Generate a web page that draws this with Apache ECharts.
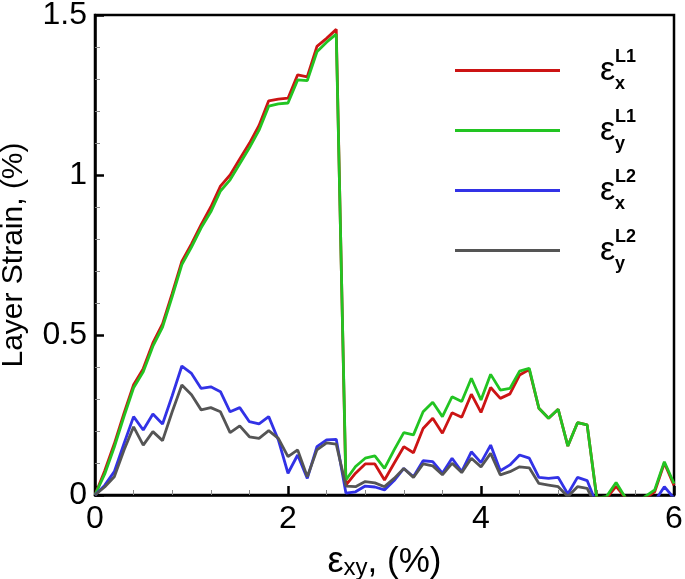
<!DOCTYPE html>
<html>
<head>
<meta charset="utf-8">
<script src="https://cdn.jsdelivr.net/npm/echarts@6/dist/echarts.min.js"></script>
<style>
    html, body { margin: 0; padding: 0; background: #fff; }
    #chart { width: 685px; height: 579px; }
</style>
</head>
<body>
<div id="chart"></div>
<script>
    // shear strain, %
    var shear = [0, 0.1, 0.2, 0.3, 0.4, 0.5, 0.6, 0.7, 0.8, 0.9,
        1, 1.1, 1.2, 1.3, 1.4, 1.5, 1.6, 1.7, 1.8, 1.9,
        2, 2.1, 2.2, 2.3, 2.4, 2.5, 2.6, 2.7, 2.8, 2.9,
        3, 3.1, 3.2, 3.3, 3.4, 3.5, 3.6, 3.7, 3.8, 3.9,
        4, 4.1, 4.2, 4.3, 4.4, 4.5, 4.6, 4.7, 4.8, 4.9,
        5, 5.1, 5.2, 5.3, 5.4, 5.5, 5.6, 5.7, 5.8, 5.9, 6];

    // layer 1, x
    var exL1 = [0, 0.075, 0.16, 0.255, 0.345, 0.395, 0.475, 0.535, 0.63, 0.73,
        0.785, 0.845, 0.90, 0.965, 1.0, 1.05, 1.099, 1.155, 1.232, 1.237,
        1.24, 1.313, 1.307, 1.402, 1.427, 1.455, 0.031, 0.068, 0.097, 0.097,
        0.047, 0.099, 0.151, 0.132, 0.208, 0.24, 0.193, 0.257, 0.243, 0.315,
        0.258, 0.336, 0.302, 0.316, 0.375, 0.392, 0.271, 0.24, 0.268, 0.153,
        0.226, 0.219, -0.01, -0.01, 0.027, -0.01, -0.03, -0.01, 0.01, 0.10, 0.03];
    // layer 1, y
    var eyL1 = [0, 0.065, 0.15, 0.245, 0.335, 0.385, 0.465, 0.525, 0.62, 0.72,
        0.775, 0.835, 0.885, 0.95, 0.985, 1.035, 1.085, 1.14, 1.215, 1.222,
        1.225, 1.297, 1.295, 1.385, 1.415, 1.44, 0.047, 0.089, 0.115, 0.122,
        0.083, 0.141, 0.195, 0.188, 0.26, 0.29, 0.245, 0.307, 0.292, 0.365,
        0.297, 0.377, 0.328, 0.333, 0.387, 0.396, 0.271, 0.24, 0.268, 0.153,
        0.226, 0.219, -0.01, -0.005, 0.039, -0.01, -0.03, -0.005, 0.016, 0.104, 0.036];
    // layer 2, x
    var exL2 = [0, 0.03, 0.073, 0.16, 0.245, 0.203, 0.253, 0.222, 0.31, 0.403,
        0.38, 0.333, 0.338, 0.323, 0.26, 0.273, 0.229, 0.222, 0.245, 0.172,
        0.068, 0.125, 0.052, 0.151, 0.172, 0.174, 0.006, 0.01, 0.028, 0.025,
        0.016, 0.045, 0.083, 0.057, 0.107, 0.104, 0.068, 0.115, 0.073, 0.135,
        0.101, 0.156, 0.076, 0.094, 0.125, 0.115, 0.055, 0.052, 0.055, 0.003,
        0.055, 0.045, -0.03, -0.05, -0.05, -0.05, -0.05, -0.05, -0.02, 0.026, -0.01];
    // layer 2, y
    var eyL2 = [0, 0.025, 0.057, 0.14, 0.213, 0.156, 0.198, 0.17, 0.26, 0.344,
        0.313, 0.266, 0.273, 0.26, 0.195, 0.216, 0.182, 0.177, 0.201, 0.177,
        0.12, 0.141, 0.057, 0.141, 0.163, 0.159, 0.028, 0.026, 0.042, 0.038,
        0.026, 0.052, 0.083, 0.055, 0.097, 0.091, 0.063, 0.099, 0.07, 0.115,
        0.088, 0.13, 0.063, 0.073, 0.088, 0.085, 0.036, 0.031, 0.026, -0.005,
        0.026, 0.021, -0.04, -0.05, -0.05, -0.05, -0.05, -0.05, -0.05, -0.04, -0.04];

    var seriesNames = ['exL1', 'eyL1', 'exL2', 'eyL2'];
    var seriesColors = ['#cc1414', '#22c422', '#3232e6', '#555555'];
    var seriesData = [exL1, eyL1, exL2, eyL2];

    var font = 'Liberation Sans';

    function pairs(vals) {
        return vals.map(function (v, i) { return [shear[i], v]; });
    }

    var series = seriesNames.map(function (name, k) {
        return {
            name: name,
            type: 'line',
            data: pairs(seriesData[k]),
            showSymbol: false,
            symbol: 'none',
            color: seriesColors[k],
            lineStyle: { width: 2.8, color: seriesColors[k] },
            animation: false
        };
    });

    var myChart = echarts.init(document.getElementById('chart'));

    var option = {
        backgroundColor: '#fff',
        animation: false,
        grid: {
            left: 95, right: 11, top: 15, bottom: 84,
            outerBoundsMode: 'none',
            containLabel: false,
            show: true, borderColor: '#000', borderWidth: 2.5
        },
        legend: {
            orient: 'vertical',
            left: 455,
            top: 48,
            padding: 0,
            icon: 'rect',
            itemWidth: 105,
            itemHeight: 3,
            itemGap: 15,
            data: seriesNames,
            formatter: function (name) {
                var dir = name.charAt(1);
                var layer = name.substr(2);
                // superscript / epsilon / subscript stacked on three lines
                return '{sp2| }{sup|' + layer + '}\n{sp|}{e|ε}\n{sp2| }{sub|' + dir + '}';
            },
            textStyle: {
                fontFamily: font,
                color: '#000',
                rich: {
                    sp: { width: 35, lineHeight: 13 },
                    sp2: { width: 50, lineHeight: 14 },
                    sup: { fontSize: 18, fontWeight: 'bold', lineHeight: 14, fontFamily: font },
                    e: { fontSize: 34, lineHeight: 13, fontFamily: font },
                    sub: { fontSize: 18, fontWeight: 'bold', lineHeight: 14, fontFamily: font }
                }
            }
        },
        xAxis: {
            type: 'value',
            min: 0, max: 6, interval: 2,
            name: '{e|ε}{sub|xy}{n|, (%)}',
            nameLocation: 'middle',
            nameGap: 38,
            nameTextStyle: {
                rich: {
                    e: { fontSize: 36, fontFamily: font, color: '#000' },
                    sub: { fontSize: 24, fontFamily: font, color: '#000', verticalAlign: 'bottom', lineHeight: 22, padding: [16, 0, 0, 0] },
                    n: { fontSize: 35, fontFamily: font, color: '#000' }
                }
            },
            axisLine: { lineStyle: { color: '#000', width: 2.5 } },
            axisTick: { inside: true, length: 9, lineStyle: { color: '#000', width: 2.5 } },
            minorTick: { show: true, splitNumber: 5, length: 5, lineStyle: { color: '#888', width: 1 } },
            splitLine: { show: false },
            axisLabel: { fontSize: 32, fontFamily: font, color: '#000', margin: 8 }
        },
        yAxis: {
            type: 'value',
            min: 0, max: 1.5, interval: 0.5,
            name: 'Layer Strain, (%)',
            nameLocation: 'middle',
            nameGap: 66,
            nameRotate: 90,
            nameTextStyle: { fontSize: 30, fontFamily: font, color: '#000' },
            axisLine: { lineStyle: { color: '#000', width: 2.5 } },
            axisTick: { inside: true, length: 9, lineStyle: { color: '#000', width: 2.5 } },
            minorTick: { show: true, splitNumber: 5, length: 5, lineStyle: { color: '#888', width: 1 } },
            splitLine: { show: false },
            axisLabel: { fontSize: 32, fontFamily: font, color: '#000', margin: 8 }
        },
        series: series
    };

    myChart.setOption(option);
</script>
</body>
</html>
